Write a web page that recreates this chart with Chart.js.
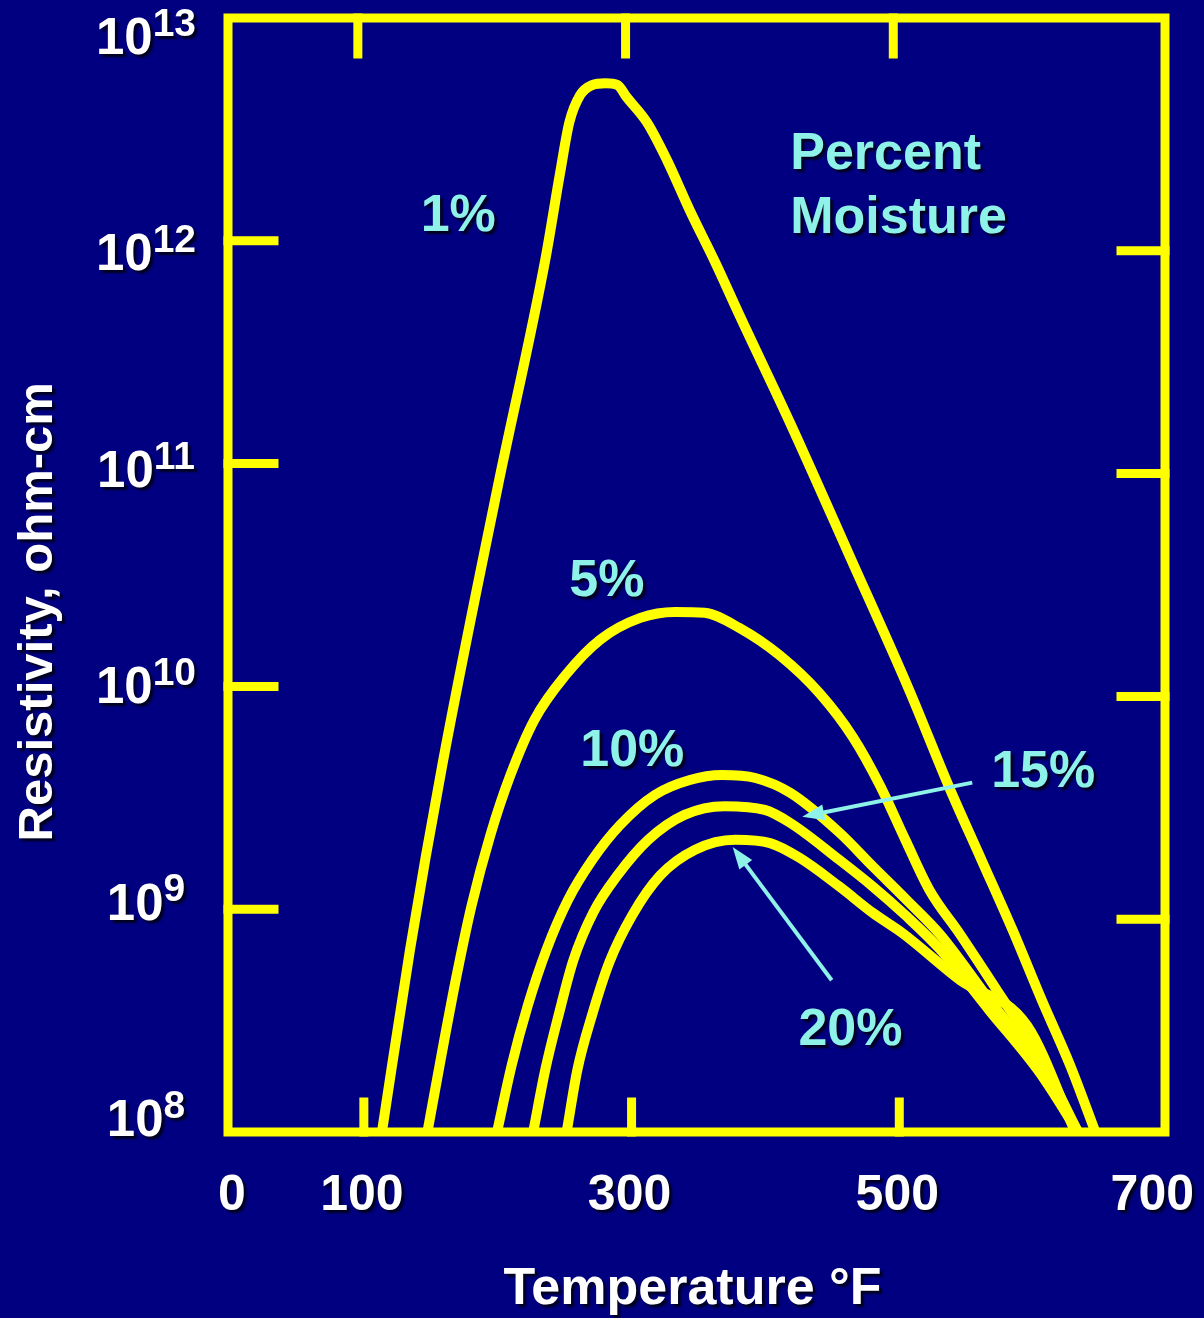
<!DOCTYPE html>
<html>
<head>
<meta charset="utf-8">
<title>Resistivity vs Temperature</title>
<script src="https://cdn.jsdelivr.net/npm/chart.js@4.4.1/dist/chart.umd.min.js"></script>
<style>
  html, body { margin: 0; padding: 0; background: #000080; }
  canvas { display: block; }
</style>
</head>
<body>
<canvas id="resChart" width="1204" height="1318"></canvas>
<script>
// Temperature (deg F) and resistivity (ohm-cm)
var temp1 = [115, 136, 160, 201, 237, 248, 255, 263, 272, 282, 291, 298, 313, 328, 345, 364, 382, 420, 464, 509, 539, 563, 586, 608, 629, 648];
var res1 = [1.0e8, 6.6e8, 4.4e9, 7.6e10, 8.2e11, 2.0e12, 3.4e12, 4.5e12, 5.0e12, 5.1e12, 5.0e12, 4.4e12, 3.4e12, 2.3e12, 1.37e12, 8.0e11, 4.65e11, 1.52e11, 3.9e10, 9.6e9, 3.5e9, 1.66e9, 8.1e8, 3.9e8, 2.0e8, 1.0e8];

var temp5 = [149, 160, 171, 182, 196, 211, 229, 252, 278, 308, 334, 356, 382, 412, 442, 467, 487, 506, 524, 547, 577, 606, 635];
var res5 = [1.0e8, 2.3e8, 5.1e8, 1.04e9, 2.15e9, 4.0e9, 7.1e9, 1.12e10, 1.62e10, 2.03e10, 2.16e10, 2.14e10, 1.83e10, 1.38e10, 9.3e9, 5.9e9, 3.6e9, 2.05e9, 1.22e9, 7.7e8, 4.1e8, 2.2e8, 1.0e8];

var temp10 = [201, 212, 224, 238, 254, 272, 293, 319, 345, 369, 394, 420, 457, 482, 507, 532, 569, 606, 635];
var res10 = [1.0e8, 2.0e8, 3.7e8, 6.6e8, 1.1e9, 1.66e9, 2.39e9, 3.26e9, 3.8e9, 4.0e9, 3.88e9, 3.33e9, 2.2e9, 1.55e9, 1.1e9, 7.7e8, 3.9e8, 2.0e8, 1.0e8];

var temp15 = [228, 237, 247, 258, 273, 291, 314, 341, 371, 401, 420, 457, 482, 506, 532, 569, 606, 635];
var res15 = [1.0e8, 1.9e8, 3.35e8, 5.9e8, 9.7e8, 1.42e9, 2.05e9, 2.65e9, 2.9e9, 2.79e9, 2.44e9, 1.66e9, 1.26e9, 9.4e8, 6.6e8, 3.5e8, 1.86e8, 1.0e8];

var temp20 = [253, 261, 272, 285, 302, 323, 349, 379, 405, 427, 457, 482, 504, 547, 597, 633];
var res20 = [1.0e8, 1.9e8, 3.35e8, 5.8e8, 9.4e8, 1.42e9, 1.85e9, 2.05e9, 1.98e9, 1.7e9, 1.26e9, 9.6e8, 7.8e8, 4.8e8, 3.0e8, 1.0e8];

// axis ticks
var xTicks = [0, 100, 300, 500, 700];
var xInnerTicks = [100, 300, 500];
var yExponents = [8, 9, 10, 11, 12, 13];

// curve labels, placed in data units (temperature, resistivity)
var curveLabels = ['1%', '5%', '10%', '15%', '20%'];
var labelTemp = [172, 283, 302, 609, 465];
var labelRes = [1.29e12, 2.94e10, 5.08e9, 4.08e9, 2.84e8];

var YELLOW = '#ffff00';
var NAVY = '#000080';
var CYAN = '#8ff2e8';

function pairs(xs, ys) {
    var out = [];
    for (var i = 0; i < xs.length; i++) {
        out.push({ x: xs[i], y: ys[i] });
    }
    return out;
}

function drawText(ctx, text, x, y, font, color, align) {
    ctx.save();
    ctx.font = font;
    ctx.fillStyle = color;
    ctx.textAlign = align || 'center';
    ctx.textBaseline = 'middle';
    ctx.shadowColor = 'rgba(0, 0, 30, 0.95)';
    ctx.shadowOffsetX = 3;
    ctx.shadowOffsetY = 3;
    ctx.shadowBlur = 2;
    ctx.fillText(text, x, y);
    ctx.restore();
}

function drawArrow(ctx, x0, y0, x1, y1) {
    var a = Math.atan2(y1 - y0, x1 - x0);
    var c = Math.cos(a), s = Math.sin(a);
    ctx.save();
    ctx.strokeStyle = CYAN;
    ctx.fillStyle = CYAN;
    ctx.lineWidth = 4;
    ctx.beginPath();
    ctx.moveTo(x0, y0);
    ctx.lineTo(x1 - 14 * c, y1 - 14 * s);
    ctx.stroke();
    ctx.beginPath();
    ctx.moveTo(x1, y1);
    ctx.lineTo(x1 - 22 * c + 8 * s, y1 - 22 * s - 8 * c);
    ctx.lineTo(x1 - 22 * c - 8 * s, y1 - 22 * s + 8 * c);
    ctx.closePath();
    ctx.fill();
    ctx.restore();
}

var framePlugin = {
    id: 'frame',
    beforeDraw: function(chart) {
        var ctx = chart.ctx;
        ctx.save();
        ctx.fillStyle = NAVY;
        ctx.fillRect(0, 0, chart.width, chart.height);
        ctx.restore();
    },
    afterDatasetsDraw: function(chart) {
        var ctx = chart.ctx;
        var area = chart.chartArea;
        var xs = chart.scales.x, ys = chart.scales.y;
        ctx.save();
        ctx.strokeStyle = YELLOW;
        ctx.lineWidth = 9;
        ctx.lineCap = 'square';
        ctx.strokeRect(area.left, area.top, area.right - area.left, area.bottom - area.top);

        // inward tick marks on the left and right sides
        yExponents.forEach(function(e) {
            if (e === 8 || e === 13) return;
            var py = ys.getPixelForValue(Math.pow(10, e));
            ctx.beginPath();
            ctx.moveTo(area.left, py);
            ctx.lineTo(area.left + 46, py);
            ctx.moveTo(area.right, py + 10);
            ctx.lineTo(area.right - 44, py + 10);
            ctx.stroke();
        });
        // inward tick marks on top and bottom
        xInnerTicks.forEach(function(t) {
            var px = xs.getPixelForValue(t);
            ctx.beginPath();
            ctx.moveTo(px - 4, area.top);
            ctx.lineTo(px - 4, area.top + 36);
            ctx.moveTo(px + 2, area.bottom);
            ctx.lineTo(px + 2, area.bottom - 30);
            ctx.stroke();
        });
        ctx.restore();
    },
    afterDraw: function(chart) {
        var ctx = chart.ctx;
        var area = chart.chartArea;
        var xs = chart.scales.x, ys = chart.scales.y;

        // y tick labels: 10 with a raised exponent
        yExponents.forEach(function(e) {
            var py = ys.getPixelForValue(Math.pow(10, e)) + 22 - 6.4 * (13 - e);
            ctx.save();
            ctx.font = 'bold 51px "Liberation Sans", Arial, sans-serif';
            var wBase = ctx.measureText('10').width;
            ctx.font = 'bold 39px "Liberation Sans", Arial, sans-serif';
            var wExp = ctx.measureText(String(e)).width;
            ctx.restore();
            var cx = area.left - 82;
            var x0 = cx - (wBase + wExp) / 2;
            drawText(ctx, '10', x0, py, 'bold 51px "Liberation Sans", Arial, sans-serif', '#ffffff', 'left');
            drawText(ctx, String(e), x0 + wBase, py - 15, 'bold 39px "Liberation Sans", Arial, sans-serif', '#ffffff', 'left');
        });

        // x tick labels
        ctx.save();
        ctx.font = 'bold 50px "Liberation Sans", Arial, sans-serif';
        xTicks.forEach(function(t) {
            var label = String(t);
            var w = ctx.measureText(label).width;
            var px = xs.getPixelForValue(t);
            px = Math.max(px, area.left + 4);
            px = Math.min(px, chart.width - w / 2 - 10);
            drawText(ctx, label, px, area.bottom + 64, 'bold 50px "Liberation Sans", Arial, sans-serif', '#ffffff');
        });
        ctx.restore();

        // axis titles
        drawText(ctx, 'Temperature \u00b0F', (area.left + area.right) / 2 - 4, area.bottom + 158,
            'bold 52px "Liberation Sans", Arial, sans-serif', '#ffffff');
        ctx.save();
        ctx.translate(38, area.top + (area.bottom - area.top) * 0.533);
        ctx.rotate(-Math.PI / 2);
        drawText(ctx, 'Resistivity, ohm-cm', 0, 0, 'bold 49px "Liberation Sans", Arial, sans-serif', '#ffffff');
        ctx.restore();

        // curve labels and legend heading
        var labelFont = 'bold 52px "Liberation Sans", Arial, sans-serif';
        curveLabels.forEach(function(txt, i) {
            drawText(ctx, txt, xs.getPixelForValue(labelTemp[i]), ys.getPixelForValue(labelRes[i]), labelFont, CYAN);
        });
        drawText(ctx, 'Percent', xs.getPixelForValue(420), ys.getPixelForValue(2.43e12), labelFont, CYAN, 'left');
        drawText(ctx, 'Moisture', xs.getPixelForValue(420), ys.getPixelForValue(1.26e12), labelFont, CYAN, 'left');

        // pointer arrows for 15% and 20%
        drawArrow(ctx, xs.getPixelForValue(556), ys.getPixelForValue(3.7e9),
            xs.getPixelForValue(429), ys.getPixelForValue(2.6e9));
        drawArrow(ctx, xs.getPixelForValue(451), ys.getPixelForValue(4.8e8),
            xs.getPixelForValue(377), ys.getPixelForValue(1.9e9));
    }
};

var canvas = document.getElementById('resChart').getContext('2d');
new Chart(canvas, {
    type: 'line',
    data: {
        datasets: [
            { label: '1%', data: pairs(temp1, res1) },
            { label: '5%', data: pairs(temp5, res5) },
            { label: '10%', data: pairs(temp10, res10) },
            { label: '15%', data: pairs(temp15, res15) },
            { label: '20%', data: pairs(temp20, res20) }
        ]
    },
    options: {
        responsive: false,
        animation: false,
        layout: { padding: { left: 228, right: 39, top: 18, bottom: 186 } },
        plugins: {
            legend: { display: false },
            tooltip: { enabled: false }
        },
        elements: {
            point: { radius: 0 },
            line: {
                borderWidth: 10,
                borderColor: YELLOW,
                cubicInterpolationMode: 'monotone',
                borderCapStyle: 'round',
                borderJoinStyle: 'round',
                fill: false
            }
        },
        scales: {
            x: { type: 'linear', min: 0, max: 700, display: false },
            y: { type: 'logarithmic', min: 1e8, max: 1e13, display: false }
        }
    },
    plugins: [framePlugin]
});
</script>
</body>
</html>
